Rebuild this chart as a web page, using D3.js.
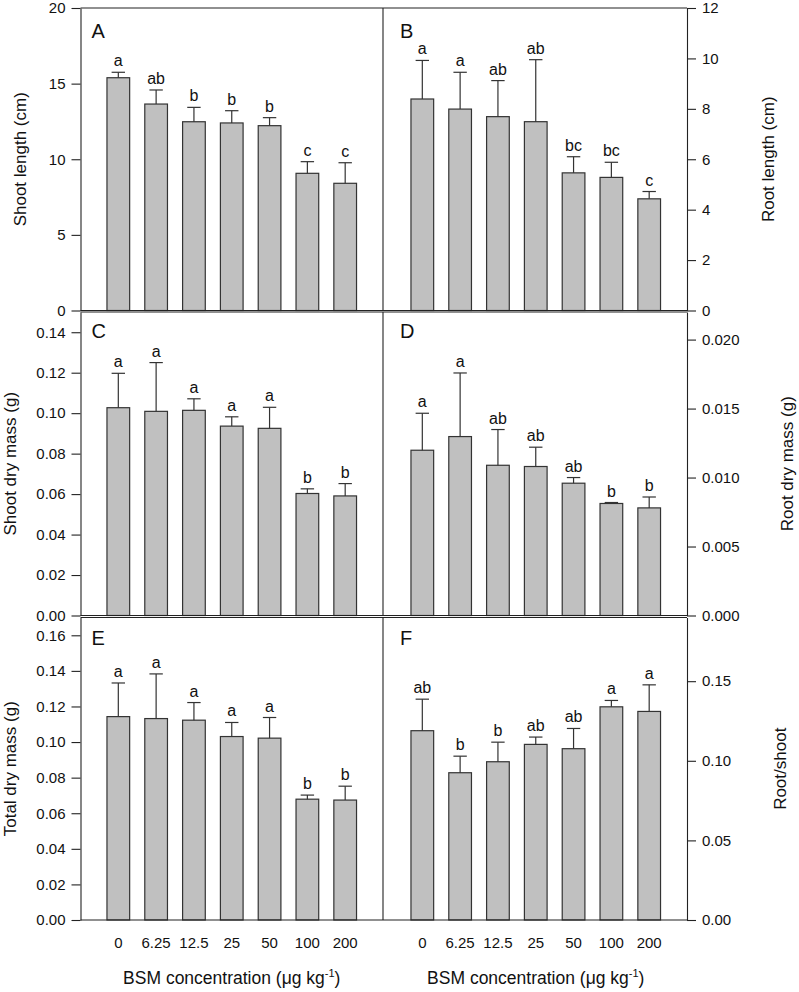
<!DOCTYPE html>
<html>
<head>
<meta charset="utf-8">
<script src="https://cdn.jsdelivr.net/npm/d3@7"></script>
<style>
html,body{margin:0;padding:0;background:#fff;}
svg{display:block;}
text{font-family:"Liberation Sans",Arial,Helvetica,sans-serif;fill:#111;}
</style>
</head>
<body>
<svg id="chart" width="799" height="992"></svg>
<script>
// ---------- data ----------
const categories = ["0", "6.25", "12.5", "25", "50", "100", "200"];

const shootLength      = [15.39, 13.65, 12.48, 12.40, 12.22, 9.07, 8.41];
const shootLengthSE    = [0.36, 0.93, 0.95, 0.81, 0.53, 0.77, 1.36];
const shootLengthSig   = ["a", "ab", "b", "b", "b", "c", "c"];

const rootLength       = [8.39, 7.99, 7.69, 7.49, 5.46, 5.28, 4.43];
const rootLengthSE     = [1.53, 1.46, 1.43, 2.46, 0.64, 0.60, 0.29];
const rootLengthSig    = ["a", "a", "ab", "ab", "bc", "bc", "c"];

const shootMass        = [0.1027, 0.1009, 0.1014, 0.0936, 0.0925, 0.0603, 0.0591];
const shootMassSE      = [0.0170, 0.0241, 0.0057, 0.0046, 0.0104, 0.0023, 0.0061];
const shootMassSig     = ["a", "a", "a", "a", "a", "b", "b"];

const rootMass         = [0.01198, 0.01297, 0.01089, 0.01080, 0.00959, 0.00812, 0.00780];
const rootMassSE       = [0.00268, 0.00461, 0.00259, 0.00140, 0.00041, 0.00007, 0.00079];
const rootMassSig      = ["a", "a", "ab", "ab", "ab", "b", "b"];

const totalMass        = [0.1143, 0.1132, 0.1123, 0.1031, 0.1022, 0.0679, 0.0674];
const totalMassSE      = [0.0189, 0.0251, 0.0099, 0.0079, 0.0116, 0.0023, 0.0078];
const totalMassSig     = ["a", "a", "a", "a", "a", "b", "b"];

const rootShoot        = [0.1189, 0.0925, 0.0994, 0.1103, 0.1076, 0.1339, 0.1310];
const rootShootSE      = [0.0198, 0.0104, 0.0123, 0.0046, 0.0127, 0.0040, 0.0167];
const rootShootSig     = ["ab", "b", "b", "ab", "ab", "a", "a"];

const ticksA = [0, 5, 10, 15, 20];
const ticksB = [0, 2, 4, 6, 8, 10, 12];
const ticksC = [0, 0.02, 0.04, 0.06, 0.08, 0.10, 0.12, 0.14];
const ticksD = [0, 0.005, 0.010, 0.015, 0.020];
const ticksE = [0, 0.02, 0.04, 0.06, 0.08, 0.10, 0.12, 0.14, 0.16];
const ticksF = [0, 0.05, 0.10, 0.15];

const xTitle = "BSM concentration (\u03BCg kg";

// ---------- layout ----------
const svg = d3.select("#chart");
const rows = [[8, 310.5], [312, 615.5], [617.5, 920]];
const cols = [[80.5, 383], [384.5, 687]];
const lineColor = "#222";

const panels = [
  {id:"A", col:0, row:0, vals:shootLength, se:shootLengthSE, sig:shootLengthSig, max:20, ticks:ticksA, fmt:d3.format("d"), title:"Shoot length (cm)", tx:26, lbY:38},
  {id:"B", col:1, row:0, vals:rootLength, se:rootLengthSE, sig:rootLengthSig, max:12, ticks:ticksB, fmt:d3.format("d"), title:"Root length (cm)", tx:774, lbY:37.7},
  {id:"C", col:0, row:1, vals:shootMass, se:shootMassSE, sig:shootMassSig, max:0.15, ticks:ticksC, fmt:d3.format(".2f"), title:"Shoot dry mass (g)", tx:16, lbY:338},
  {id:"D", col:1, row:1, vals:rootMass, se:rootMassSE, sig:rootMassSig, max:0.022, ticks:ticksD, fmt:d3.format(".3f"), title:"Root dry mass (g)", tx:793, lbY:337.7},
  {id:"E", col:0, row:2, vals:totalMass, se:totalMassSE, sig:totalMassSig, max:0.17, ticks:ticksE, fmt:d3.format(".2f"), title:"Total dry mass (g)", tx:16, lbY:645},
  {id:"F", col:1, row:2, vals:rootShoot, se:rootShootSE, sig:rootShootSig, max:0.19, ticks:ticksF, fmt:d3.format(".2f"), title:"Root/shoot", tx:786, lbY:645}
];

panels.forEach(p => {
  const [top, bottom] = rows[p.row];
  const [left, right] = cols[p.col];
  const g = svg.append("g");
  const x = d3.scalePoint().domain(categories).range([left, right]).padding(1);
  const y = d3.scaleLinear().domain([0, p.max]).range([bottom, top]);
  const bw = x.step() * 0.6;

  // bars
  g.selectAll("rect.bar").data(p.vals).join("rect")
    .attr("x", (d, i) => x(categories[i]) - bw / 2)
    .attr("y", d => y(d))
    .attr("width", bw)
    .attr("height", d => y(0) - y(d))
    .attr("fill", "#c0c0c0")
    .attr("stroke", "#333")
    .attr("stroke-width", 1.2);

  // error bars (upper only)
  const eb = g.selectAll("g.eb").data(p.vals).join("g");
  eb.append("line")
    .attr("x1", (d, i) => x(categories[i])).attr("x2", (d, i) => x(categories[i]))
    .attr("y1", d => y(d)).attr("y2", (d, i) => y(d + p.se[i]))
    .attr("stroke", "#333").attr("stroke-width", 1.2);
  eb.append("line")
    .attr("x1", (d, i) => x(categories[i]) - 6.7).attr("x2", (d, i) => x(categories[i]) + 6.7)
    .attr("y1", (d, i) => y(d + p.se[i])).attr("y2", (d, i) => y(d + p.se[i]))
    .attr("stroke", "#333").attr("stroke-width", 1.2);

  // significance letters
  g.selectAll("text.sig").data(p.vals).join("text")
    .attr("x", (d, i) => x(categories[i]))
    .attr("y", (d, i) => y(d + p.se[i]) - 6)
    .attr("text-anchor", "middle")
    .attr("font-size", 16)
    .text((d, i) => p.sig[i]);

  // frame
  const fr = g.append("g").attr("stroke", lineColor).attr("stroke-width", 1.1).attr("fill", "none");
  const fl = p.col === 0 ? left : 383;
  fr.append("line").attr("x1", fl).attr("x2", right).attr("y1", top).attr("y2", top);
  fr.append("line").attr("x1", fl).attr("x2", right).attr("y1", bottom).attr("y2", bottom);
  if (p.col === 0) {
    fr.append("line").attr("x1", right).attr("x2", right).attr("y1", top).attr("y2", bottom);
  }

  // y axis
  const axis = (p.col === 0 ? d3.axisLeft(y) : d3.axisRight(y))
    .tickValues(p.ticks).tickFormat(p.fmt).tickSize(9).tickSizeOuter(0).tickPadding(6);
  const ag = g.append("g")
    .attr("transform", `translate(${p.col === 0 ? left : right},0)`)
    .call(axis);
  ag.selectAll("path.domain").attr("stroke", lineColor).attr("stroke-width", 1.1);
  ag.selectAll(".tick line").attr("stroke", lineColor).attr("stroke-width", 1.1);
  ag.selectAll(".tick text").attr("font-size", 15).attr("fill", "#111")
    .attr("font-family", '"Liberation Sans",Arial,sans-serif');

  // y title
  g.append("text")
    .attr("transform", `translate(${p.tx},${(top + bottom) / 2}) rotate(-90)`)
    .attr("text-anchor", "middle")
    .attr("font-size", 17)
    .text(p.title);

  // panel letter
  g.append("text")
    .attr("x", p.col === 0 ? left + 11 : 400)
    .attr("y", p.lbY)
    .attr("font-size", 20)
    .text(p.id);

  // x labels for bottom row
  if (p.row === 2) {
    g.selectAll("text.xl").data(categories).join("text")
      .attr("x", d => x(d))
      .attr("y", 948)
      .attr("text-anchor", "middle")
      .attr("font-size", 15)
      .text(d => d);
    const t = g.append("text")
      .attr("x", (left + right) / 2)
      .attr("y", 984)
      .attr("text-anchor", "middle")
      .attr("font-size", 17.5);
    t.append("tspan").text(xTitle);
    t.append("tspan").attr("dy", -7).attr("font-size", 11).text("-1");
    t.append("tspan").attr("dy", 7).text(")");
  }
});
</script>
</body>
</html>
